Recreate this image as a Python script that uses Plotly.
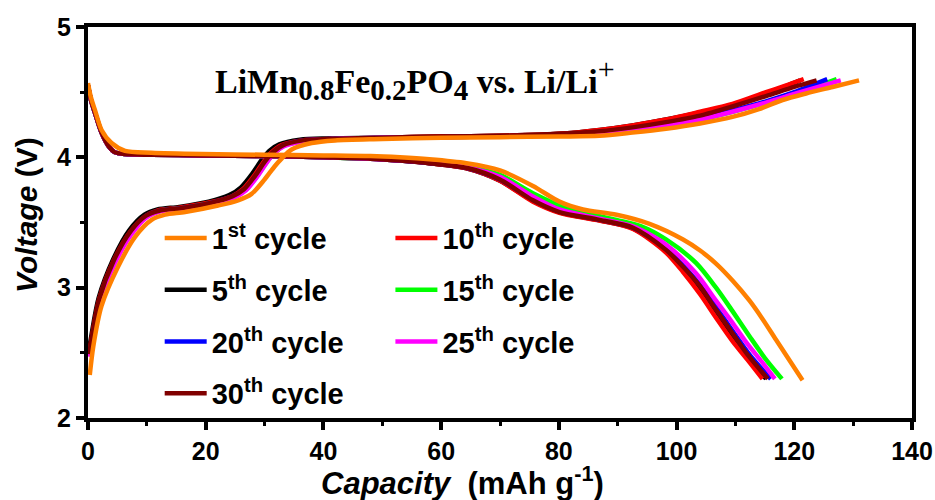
import plotly.graph_objects as go

# ---------------- data: capacity (mAh/g) and voltage (V) per cycle ----------------
# charge branches
cap_chg_1 = [0.3, 0.9, 2.3, 5.1, 8.0, 10.8, 13.1, 16.5, 22.1, 25.5, 27.8, 30.0, 31.7, 32.9, 34.6, 38.0, 42, 50, 60, 70, 80, 86.9, 92.5, 98.2, 104, 109.5, 114, 118, 122, 126.5, 131.0]
v_chg_1 = [2.33, 2.55, 2.86, 3.16, 3.39, 3.52, 3.56, 3.58, 3.63, 3.67, 3.72, 3.83, 3.93, 3.99, 4.06, 4.11, 4.13, 4.14, 4.15, 4.155, 4.16, 4.165, 4.19, 4.22, 4.26, 4.31, 4.37, 4.44, 4.49, 4.54, 4.59]

cap_chg_5 = [0.1, 0.6, 1.8, 4.3, 7.0, 9.6, 11.8, 15.5, 20.5, 24.0, 26.0, 28.0, 29.5, 30.8, 32.5, 36.0, 40.5, 50, 60, 70, 80, 86.9, 92.5, 98.2, 104, 109.5, 115.0, 118.5, 121.0]
v_chg_5 = [2.50, 2.64, 2.92, 3.22, 3.44, 3.56, 3.60, 3.62, 3.66, 3.71, 3.77, 3.88, 3.98, 4.05, 4.10, 4.135, 4.145, 4.15, 4.16, 4.165, 4.18, 4.21, 4.245, 4.29, 4.345, 4.405, 4.49, 4.545, 4.59]

cap_chg_10 = [0.2, 0.7, 1.9, 4.4, 7.2, 9.8, 12.0, 15.8, 20.8, 24.4, 26.4, 28.4, 29.9, 31.2, 32.9, 36.4, 41, 50, 60, 70, 80, 86.9, 92.5, 98.2, 104, 109.5, 115.2, 118.5, 121.6]
v_chg_10 = [2.49, 2.63, 2.91, 3.21, 3.43, 3.55, 3.595, 3.615, 3.655, 3.70, 3.76, 3.87, 3.97, 4.04, 4.095, 4.13, 4.14, 4.15, 4.16, 4.165, 4.18, 4.21, 4.245, 4.29, 4.35, 4.41, 4.50, 4.55, 4.60]

cap_chg_15 = [0.2, 0.8, 2.0, 4.6, 7.4, 10.0, 12.3, 16.0, 21.0, 24.8, 26.8, 28.8, 30.3, 31.6, 33.3, 36.8, 41.5, 50, 60, 70, 80, 86.9, 92.5, 98.2, 104, 109.5, 115.2, 121.0, 127.2]
v_chg_15 = [2.48, 2.62, 2.90, 3.20, 3.42, 3.545, 3.59, 3.61, 3.65, 3.695, 3.75, 3.86, 3.96, 4.03, 4.09, 4.125, 4.14, 4.15, 4.155, 4.16, 4.17, 4.19, 4.215, 4.245, 4.29, 4.35, 4.42, 4.50, 4.60]

cap_chg_20 = [0.2, 0.8, 2.0, 4.5, 7.3, 9.9, 12.2, 15.9, 20.9, 24.6, 26.6, 28.6, 30.1, 31.4, 33.1, 36.6, 41.2, 50, 60, 70, 80, 86.9, 92.5, 98.2, 104, 109.5, 115.2, 120.0, 125.6]
v_chg_20 = [2.48, 2.62, 2.90, 3.20, 3.42, 3.55, 3.59, 3.61, 3.65, 3.70, 3.755, 3.865, 3.965, 4.035, 4.09, 4.13, 4.14, 4.15, 4.155, 4.16, 4.175, 4.195, 4.22, 4.25, 4.30, 4.36, 4.43, 4.50, 4.60]

cap_chg_25 = [0.2, 0.8, 2.0, 4.6, 7.4, 10.0, 12.3, 16.0, 21.0, 24.8, 26.8, 28.8, 30.3, 31.6, 33.3, 36.8, 41.5, 50, 60, 70, 80, 86.9, 92.5, 98.2, 104, 109.5, 115.2, 121.0, 127.9]
v_chg_25 = [2.47, 2.61, 2.89, 3.19, 3.41, 3.54, 3.585, 3.605, 3.645, 3.69, 3.745, 3.855, 3.955, 4.03, 4.085, 4.125, 4.14, 4.15, 4.155, 4.16, 4.17, 4.19, 4.21, 4.24, 4.29, 4.35, 4.42, 4.50, 4.59]

cap_chg_30 = [0.2, 0.7, 1.9, 4.4, 7.2, 9.8, 12.1, 15.8, 20.8, 24.5, 26.5, 28.5, 30.0, 31.3, 33.0, 36.5, 41, 50, 60, 70, 80, 86.9, 92.5, 98.2, 104, 109.5, 115.2, 120.0, 123.8]
v_chg_30 = [2.49, 2.63, 2.91, 3.21, 3.43, 3.55, 3.59, 3.61, 3.65, 3.70, 3.755, 3.865, 3.965, 4.035, 4.09, 4.13, 4.14, 4.15, 4.16, 4.165, 4.18, 4.20, 4.23, 4.27, 4.32, 4.39, 4.47, 4.54, 4.59]

# discharge branches
cap_dis_1 = [0, 0.5, 1.2, 2.3, 4.0, 6.3, 10.8, 19.3, 30, 40, 48, 53, 58, 64.3, 70, 75.6, 80.1, 84.1, 89.8, 95.4, 101.1, 104, 106.7, 109.5, 112.4, 114.6, 116.9, 121.4]
v_dis_1 = [4.57, 4.46, 4.36, 4.21, 4.11, 4.05, 4.036, 4.026, 4.02, 4.015, 4.01, 4.0, 3.985, 3.955, 3.90, 3.78, 3.66, 3.60, 3.56, 3.49, 3.37, 3.285, 3.185, 3.055, 2.90, 2.76, 2.60, 2.29]

cap_dis_5 = [0, 0.5, 1.2, 2.3, 3.6, 4.5, 6.3, 10.8, 19.3, 30, 40, 48, 53, 58, 64.3, 70, 75.6, 80.1, 86.9, 92.6, 98.2, 101.1, 104, 106.7, 109.5, 112, 115.2]
v_dis_5 = [4.55, 4.44, 4.34, 4.19, 4.08, 4.04, 4.025, 4.02, 4.015, 4.01, 4.0, 3.99, 3.975, 3.955, 3.915, 3.82, 3.665, 3.578, 3.517, 3.455, 3.28, 3.14, 2.98, 2.80, 2.62, 2.47, 2.30]

cap_dis_10 = [0, 0.5, 1.2, 2.3, 3.6, 4.5, 6.3, 10.8, 19.3, 30, 40, 48, 53, 58, 64.3, 70, 75.6, 80.1, 86.9, 92.6, 98.2, 101.1, 104, 106.7, 109.5, 112, 114.6]
v_dis_10 = [4.55, 4.44, 4.34, 4.19, 4.08, 4.04, 4.025, 4.02, 4.015, 4.01, 4.0, 3.99, 3.975, 3.955, 3.915, 3.82, 3.66, 3.575, 3.515, 3.45, 3.27, 3.12, 2.95, 2.77, 2.59, 2.45, 2.30]

cap_dis_15 = [0, 0.5, 1.2, 2.3, 3.6, 4.5, 6.3, 10.8, 19.3, 30, 40, 48, 53, 58, 64.3, 70, 75.6, 81.3, 89.8, 94.0, 98.2, 103.3, 106.7, 109.5, 112.5, 115.0, 117.9]
v_dis_15 = [4.55, 4.44, 4.34, 4.19, 4.08, 4.04, 4.025, 4.02, 4.015, 4.01, 4.0, 3.99, 3.98, 3.962, 3.93, 3.865, 3.725, 3.61, 3.52, 3.47, 3.37, 3.19, 3.00, 2.82, 2.62, 2.46, 2.30]

cap_dis_20 = [0, 0.5, 1.2, 2.3, 3.6, 4.5, 6.3, 10.8, 19.3, 30, 40, 48, 53, 58, 64.3, 70, 75.6, 80.1, 86.9, 92.6, 98.2, 101.1, 104, 106.7, 109.5, 112.5, 116.0]
v_dis_20 = [4.55, 4.44, 4.34, 4.19, 4.08, 4.04, 4.025, 4.02, 4.015, 4.01, 4.0, 3.99, 3.976, 3.957, 3.92, 3.83, 3.675, 3.585, 3.522, 3.46, 3.30, 3.17, 3.02, 2.85, 2.67, 2.48, 2.30]

cap_dis_25 = [0, 0.5, 1.2, 2.3, 3.6, 4.5, 6.3, 10.8, 19.3, 30, 40, 48, 53, 58, 64.3, 70, 75.6, 80.1, 86.9, 92.6, 98.2, 103.3, 106.7, 109.5, 112.0, 114.5, 116.7]
v_dis_25 = [4.55, 4.44, 4.34, 4.19, 4.08, 4.04, 4.025, 4.02, 4.015, 4.01, 4.0, 3.99, 3.978, 3.96, 3.925, 3.85, 3.70, 3.60, 3.53, 3.47, 3.33, 3.11, 2.90, 2.73, 2.57, 2.43, 2.30]

cap_dis_30 = [0, 0.5, 1.2, 2.3, 3.6, 4.5, 6.3, 10.8, 19.3, 30, 40, 48, 53, 58, 64.3, 70, 75.6, 80.1, 86.9, 92.6, 98.2, 101.1, 104, 106.7, 109.5, 112, 115.5]
v_dis_30 = [4.55, 4.44, 4.34, 4.19, 4.08, 4.04, 4.025, 4.02, 4.015, 4.01, 4.0, 3.99, 3.975, 3.955, 3.92, 3.83, 3.67, 3.58, 3.52, 3.46, 3.29, 3.16, 3.01, 2.83, 2.65, 2.49, 2.30]

# cycle labels, colours, legend column and drawing order
cycle_names = ["5<sup>th</sup> cycle", "10<sup>th</sup> cycle", "15<sup>th</sup> cycle",
               "20<sup>th</sup> cycle", "25<sup>th</sup> cycle", "30<sup>th</sup> cycle",
               "1<sup>st</sup> cycle"]
cycle_colors = ["#000000", "#FF0000", "#00FF00", "#0000FF", "#FF00FF", "#800000", "#FF8000"]
legend_ids = ["legend", "legend2", "legend2", "legend", "legend2", "legend", "legend"]
legend_ranks = [2, 1, 2, 3, 3, 4, 1]
charge_caps = [cap_chg_5, cap_chg_10, cap_chg_15, cap_chg_20, cap_chg_25, cap_chg_30, cap_chg_1]
charge_volts = [v_chg_5, v_chg_10, v_chg_15, v_chg_20, v_chg_25, v_chg_30, v_chg_1]
dis_caps = [cap_dis_5, cap_dis_10, cap_dis_15, cap_dis_20, cap_dis_25, cap_dis_30, cap_dis_1]
dis_volts = [v_dis_5, v_dis_10, v_dis_15, v_dis_20, v_dis_25, v_dis_30, v_dis_1]

SANS = "Liberation Sans, Arial, sans-serif"
SERIF = "Liberation Serif, Times New Roman, serif"

fig = go.Figure()
for i, name in enumerate(cycle_names):
    for k, (xs, ys) in enumerate([(charge_caps[i], charge_volts[i]), (dis_caps[i], dis_volts[i])]):
        fig.add_trace(go.Scatter(
            x=xs, y=ys, mode="lines",
            line=dict(color=cycle_colors[i], width=4.5, shape="spline", smoothing=0.8),
            name="<b>" + name + "</b>",
            legendgroup=name, showlegend=(k == 0),
            legend=legend_ids[i], legendrank=legend_ranks[i],
            hoverinfo="skip",
        ))

axis_common = dict(
    showline=True, linewidth=4, linecolor="black", mirror=True,
    ticks="outside", ticklen=8, tickwidth=4, tickcolor="black",
    showgrid=False, zeroline=False, automargin=False,
    tickfont=dict(family=SANS, size=25, color="black", weight="bold"),
)
fig.update_xaxes(range=[0, 140], dtick=20, tick0=0,
                 minor=dict(dtick=10, ticks="outside", ticklen=4, tickwidth=3, tickcolor="black"),
                 **axis_common)
fig.update_yaxes(range=[2, 5], dtick=1, tick0=2,
                 minor=dict(dtick=0.5, ticks="outside", ticklen=4, tickwidth=3, tickcolor="black"),
                 **axis_common)

legend_common = dict(
    bgcolor="rgba(0,0,0,0)", borderwidth=0,
    font=dict(family=SANS, size=29, color="black"),
    orientation="v", tracegroupgap=11, itemwidth=42,
    xanchor="left", yanchor="top", traceorder="grouped",
)
fig.update_layout(
    width=935, height=500,
    margin=dict(l=88, r=23, t=27, b=82),
    paper_bgcolor="white", plot_bgcolor="white",
    legend=dict(x=0.087, y=0.525, **legend_common),
    legend2=dict(x=0.367, y=0.525, **legend_common),
    annotations=[
        dict(text=("<b>LiMn<sub><span style='font-size:29px'>0.8</span></sub>"
                   "Fe<sub><span style='font-size:29px'>0.2</span></sub>"
                   "PO<sub><span style='font-size:29px'>4</span></sub> vs. Li/Li</b>"
                   "<sup><span style='font-size:30px'>+</span></sup>"),
             x=55.6, y=4.6, xref="x", yref="y", showarrow=False,
             font=dict(family=SERIF, size=34, color="black")),
        dict(text="<b><i>Capacity</i>  (mAh g<sup>-1</sup>)</b>",
             x=0.455, y=-0.162, xref="paper", yref="paper", showarrow=False,
             xanchor="center", yanchor="middle",
             font=dict(family=SANS, size=31, color="black")),
        dict(text="<b><i>Voltage</i> (V)</b>",
             x=-0.075, y=0.52, xref="paper", yref="paper", showarrow=False,
             textangle=-90, xanchor="center", yanchor="middle",
             font=dict(family=SANS, size=30, color="black")),
    ],
)

fig.write_html("out.html")
